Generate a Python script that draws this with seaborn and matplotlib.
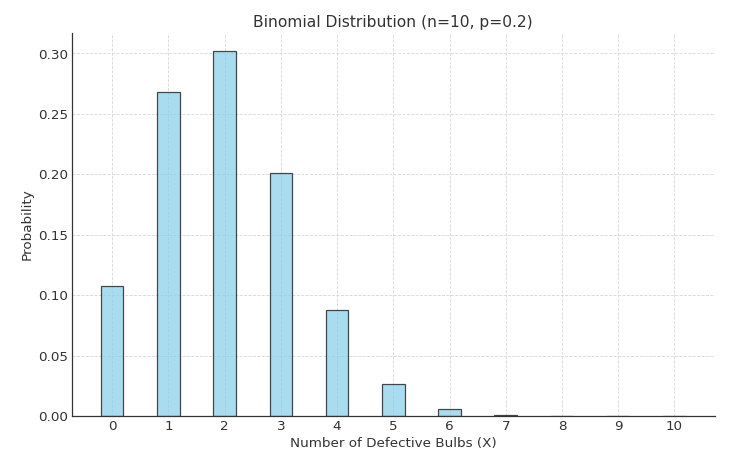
import matplotlib
matplotlib.use("Agg")
import matplotlib.pyplot as plt
import seaborn as sns
import pandas as pd

defects = [0, 1, 2, 3, 4, 5, 6, 7, 8, 9, 10]
probability = [0.1074, 0.2684, 0.3020, 0.2013, 0.0881, 0.0264, 0.0055, 0.0008, 0.0001, 0.0000, 0.0000]

sns.set_style("white")
plt.rcParams['font.family'] = ['DejaVu Sans']
txt = '#333333'
plt.rcParams.update({'text.color': txt, 'axes.labelcolor': txt,
                     'xtick.color': txt, 'ytick.color': txt})

df = pd.DataFrame({"X": defects, "P": probability})

fig = plt.figure(figsize=(10, 6.2), dpi=74.7)
ax = fig.add_axes([0.096, 0.1015, 0.861, 0.8275])
sns.barplot(data=df, x="X", y="P", ax=ax, width=0.4, color="skyblue",
            alpha=0.7, edgecolor="black", linewidth=1.2, saturation=1)

ax.set_xlim(-0.72, 10.72)
ax.set_ylim(0, 0.3171)
ax.set_yticks([0, 0.05, 0.10, 0.15, 0.20, 0.25, 0.30])
ax.set_yticklabels([f"{v:.2f}" for v in [0, 0.05, 0.10, 0.15, 0.20, 0.25, 0.30]])
ax.grid(True, linestyle='--', color='#cccccc', linewidth=0.8, alpha=0.8)
ax.set_axisbelow(True)
for s in ['top', 'right']:
    ax.spines[s].set_visible(False)
for s in ['left', 'bottom']:
    ax.spines[s].set_color('#333333')
    ax.spines[s].set_linewidth(1.2)
ax.tick_params(axis='both', direction='in', length=4, labelsize=13, colors=txt)
ax.set_title("Binomial Distribution (n=10, p=0.2)", fontsize=15, color=txt)
ax.set_xlabel("Number of Defective Bulbs (X)", fontsize=13)
ax.set_ylabel("Probability", fontsize=13)

fig.savefig("out.png", dpi=74.7)
